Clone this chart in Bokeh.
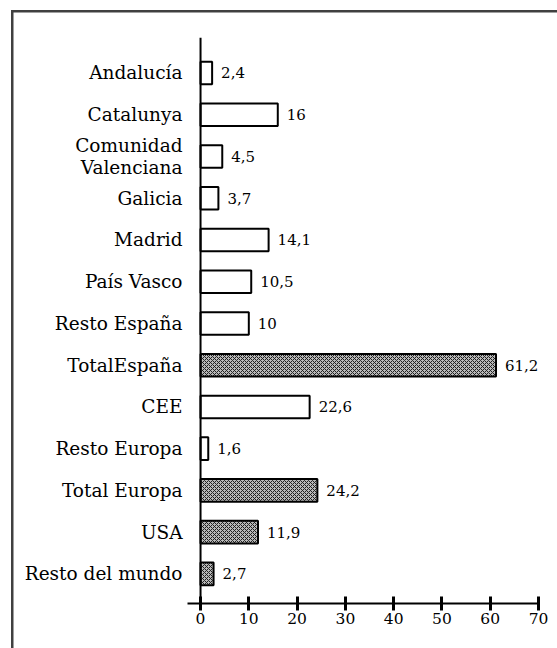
from bokeh.plotting import figure
from bokeh.models import Range1d, Span, FixedTicker, ColumnDataSource
from bokeh.core.properties import value
from bokeh.embed import file_html
from bokeh.resources import INLINE

# ---- data ----
categories = ["Andalucía", "Catalunya", "Comunidad\nValenciana", "Galicia", "Madrid",
              "País Vasco", "Resto España", "TotalEspaña", "CEE", "Resto Europa",
              "Total Europa", "USA", "Resto del mundo"]
values = [2.4, 16, 4.5, 3.7, 14.1, 10.5, 10, 61.2, 22.6, 1.6, 24.2, 11.9, 2.7]
shaded = [False, False, False, False, False, False, False, True, False, False,
          True, True, True]
x_ticks = [0, 10, 20, 30, 40, 50, 60, 70]

n = len(categories)
pos = [n - 1 - i for i in range(n)]
labels = [f"{v:g}".replace(".", ",") for v in values]

FONT = "DejaVu Serif"

p = figure(width=557, height=648, output_backend="svg", toolbar_location=None,
           x_range=Range1d(-2.7, 70), y_range=Range1d(-0.71, n - 1 + 0.85),
           min_border_left=187, min_border_right=19, min_border_top=37,
           min_border_bottom=45)
p.outline_line_color = None
p.xgrid.visible = False
p.ygrid.visible = False
p.background_fill_color = None
p.border_fill_color = None

# outer picture frame (left and top edges) drawn behind the transparent canvas
p.styles = {
    "background-color": "white",
    "background-image": "linear-gradient(#404040, #404040), linear-gradient(#404040, #404040)",
    "background-position": "10.5px 9.5px, 10.5px 9.5px",
    "background-size": "100% 2.5px, 2.5px 100%",
    "background-repeat": "no-repeat",
}

# y axis: category labels only
p.yaxis.ticker = FixedTicker(ticks=pos)
p.yaxis.major_label_overrides = {k: c for k, c in zip(pos, categories)}
p.yaxis.axis_line_color = None
p.yaxis.major_tick_line_color = None
p.yaxis.major_tick_out = 0
p.yaxis.major_tick_in = 0
p.yaxis.minor_tick_line_color = None
p.yaxis.major_label_standoff = 5
p.yaxis.major_label_text_font = FONT
p.yaxis.major_label_text_font_size = "18.5px"
p.yaxis.major_label_text_line_height = 1.08
p.yaxis.major_label_text_color = "black"

# x axis
p.xaxis.ticker = FixedTicker(ticks=x_ticks)
p.xaxis.axis_line_width = 2
p.xaxis.axis_line_color = "black"
p.xaxis.major_tick_in = 7
p.xaxis.major_tick_out = 7
p.xaxis.major_tick_line_width = 3
p.xaxis.major_tick_line_color = "black"
p.xaxis.minor_tick_line_color = None
p.xaxis.major_label_standoff = 2
p.xaxis.major_label_text_font = FONT
p.xaxis.major_label_text_font_size = "15.5px"
p.xaxis.major_label_text_color = "black"

# vertical base line at x = 0
p.add_layout(Span(location=0, dimension="height", line_color="black", line_width=2))

plain = ColumnDataSource(dict(
    y=[y for y, s in zip(pos, shaded) if not s],
    v=[v for v, s in zip(values, shaded) if not s]))
dark = ColumnDataSource(dict(
    y=[y for y, s in zip(pos, shaded) if s],
    v=[v for v, s in zip(values, shaded) if s]))

p.hbar(y="y", left=0, right="v", height=0.54, source=plain,
       fill_color="white", line_color="black", line_width=2)
p.hbar(y="y", left=0, right="v", height=0.54, source=dark,
       fill_color="#b8b8b8", hatch_pattern="diagonal_cross", hatch_scale=4,
       hatch_weight=1, hatch_color="#202020",
       line_color="black", line_width=2)

p.text(x=values, y=pos, text=labels, x_offset=9, text_align="left",
       text_baseline="middle", text_font=value(FONT), text_font_size="15px",
       text_color="black")

open("out.html", "w").write(file_html(p, INLINE))
